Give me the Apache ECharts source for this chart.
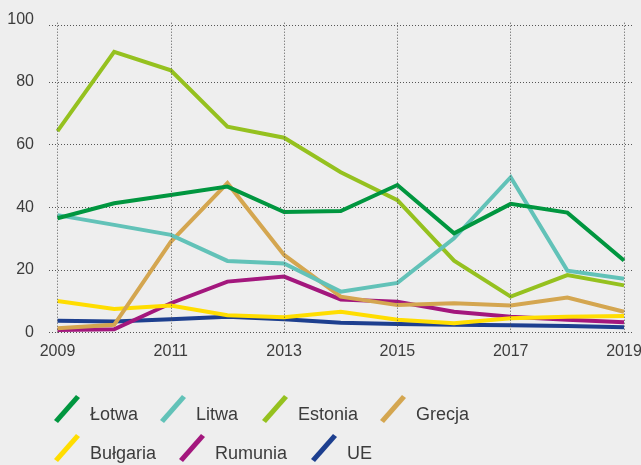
<!DOCTYPE html>
<html>
<head>
<meta charset="utf-8">
<script src="https://cdn.jsdelivr.net/npm/echarts@6/dist/echarts.min.js"></script>
<style>
  html, body { margin: 0; padding: 0; background: #eeeeee; }
  #chart { width: 641px; height: 465px; }
</style>
</head>
<body>
<div id="chart"></div>
<script>
// Years on the x axis and the labelled ticks
const years = [2009, 2010, 2011, 2012, 2013, 2014, 2015, 2016, 2017, 2018, 2019];
const xTickYears = [2009, 2011, 2013, 2015, 2017, 2019];
const yTicks = [0, 20, 40, 60, 80, 100];

// Series values per country
const lotwa    = [36.5, 41.3, 43.9, 46.6, 38.5, 38.8, 47.1, 31.7, 41.1, 38.3, 23.0];
const litwa    = [37.5, 34.4, 31.2, 22.9, 22.1, 13.1, 15.9, 30.1, 49.6, 19.8, 17.2];
const estonia  = [64.3, 89.6, 83.7, 65.7, 62.2, 51.2, 42.3, 23.0, 11.5, 18.4, 15.1];
const grecja   = [1.4, 2.5, 29.0, 47.7, 24.8, 11.5, 8.8, 9.4, 8.7, 11.2, 6.7];
const bulgaria = [10.1, 7.6, 8.7, 5.6, 4.9, 6.7, 4.1, 3.0, 4.6, 5.1, 5.3];
const rumunia  = [0.9, 1.1, 9.4, 16.3, 17.9, 10.6, 9.9, 6.7, 5.1, 4.1, 3.3];
const ue       = [3.8, 3.6, 4.3, 5.1, 4.3, 3.2, 2.8, 2.5, 2.4, 2.1, 1.7];

const seriesDefs = [
  { name: 'Łotwa',    values: lotwa,    color: '#00963f' },
  { name: 'Litwa',    values: litwa,    color: '#62c2b8' },
  { name: 'Estonia',  values: estonia,  color: '#95c11f' },
  { name: 'Grecja',   values: grecja,   color: '#d4a650' },
  { name: 'Bułgaria', values: bulgaria, color: '#ffdd00' },
  { name: 'Rumunia',  values: rumunia,  color: '#a3177d' },
  { name: 'UE',       values: ue,       color: '#1d3f8f' }
];

const textColor = '#3c3c3c';
const gridColor = '#555555';
const font = 'Liberation Sans, Arial, sans-serif';
const slash = 'path://M0,25 L22,0 L26,3 L4,28 Z';

// Legend positions: two rows, each entry placed on its own
const legendSlots = [
  { left: 54, top: 395 }, { left: 160, top: 395 }, { left: 262, top: 395 }, { left: 380, top: 395 },
  { left: 54, top: 434 }, { left: 179, top: 434 }, { left: 311, top: 434 }
];

const legends = seriesDefs.map((s, i) => ({
  data: [{ name: s.name, icon: slash }],
  left: legendSlots[i].left,
  top: legendSlots[i].top,
  padding: 0,
  itemWidth: 26,
  itemHeight: 28,
  selectedMode: false,
  formatter: name => '{t|' + name + '}',
  textStyle: {
    color: textColor,
    fontSize: 18,
    fontFamily: font,
    rich: {
      t: { color: textColor, fontSize: 18, fontFamily: font, padding: [12, 0, 0, 5] }
    }
  }
}));

const dotted = { color: gridColor, width: 1, type: [1, 2] };

// Vertical guide lines at the labelled years
const verticalLines = xTickYears.map(y => [
  { coord: [y, 0] },
  { coord: [y, 99.5] }
]);

const lineSeries = seriesDefs.map(s => ({
  name: s.name,
  type: 'line',
  data: years.map((y, i) => [y, s.values[i]]),
  symbol: 'none',
  itemStyle: { color: s.color },
  lineStyle: { color: s.color, width: 4, cap: 'butt', join: 'miter' },
  emphasis: { disabled: true },
  silent: true
})).reverse();

// Dotted frame line near the top and the vertical year lines
lineSeries.unshift({
  name: '__guides',
  type: 'line',
  data: [],
  silent: true,
  markLine: {
    silent: true,
    symbol: 'none',
    label: { show: false },
    lineStyle: dotted,
    emphasis: { disabled: true },
    animation: false,
    data: [{ yAxis: 98 }].concat(verticalLines)
  }
});

const chart = echarts.init(document.getElementById('chart'), null, { renderer: 'canvas' });
chart.setOption({
  backgroundColor: '#eeeeee',
  animation: false,
  textStyle: { fontFamily: font },
  grid: { left: 49, right: 8.5, top: 19.2, bottom: 132.3, containLabel: false, outerBoundsMode: 'none' },
  legend: legends,
  xAxis: {
    type: 'value',
    min: 2008.85,
    max: 2019.15,
    axisLine: { show: false },
    axisTick: { show: false },
    splitLine: { show: false },
    axisLabel: {
      customValues: xTickYears,
      formatter: v => String(v),
      color: textColor,
      fontSize: 16,
      fontFamily: font,
      margin: 11,
      hideOverlap: false
    }
  },
  yAxis: {
    type: 'value',
    min: 0,
    max: 100,
    interval: 20,
    axisLine: { show: false },
    axisTick: { show: false },
    splitLine: { show: true, showMaxLine: false, lineStyle: dotted },
    axisLabel: {
      customValues: yTicks,
      color: textColor,
      fontSize: 16,
      fontFamily: font,
      margin: 15
    }
  },
  series: lineSeries
});
</script>
</body>
</html>
